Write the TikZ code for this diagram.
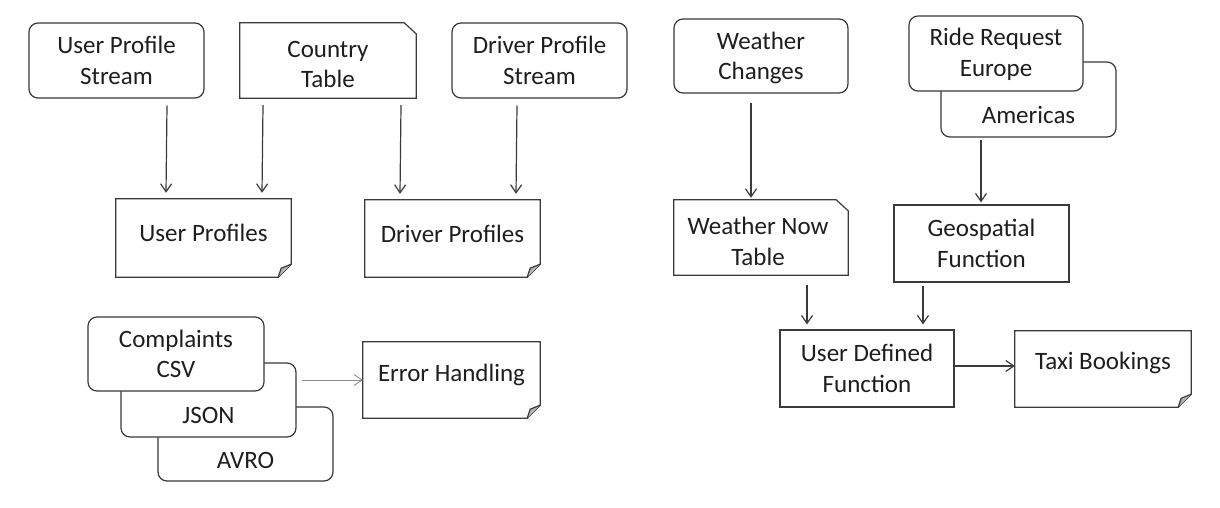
\documentclass[tikz,border=0pt]{standalone}
\usepackage{fontspec}
\setmainfont{Carlito}
\usetikzlibrary{arrows.meta,calc}
\definecolor{linec}{HTML}{3A3A3A}
\definecolor{txtc}{HTML}{1E1E1E}
\definecolor{foldc}{HTML}{B5B5B5}
\definecolor{graya}{HTML}{8A8A8A}
\newcommand\mydogear[1]{%
  \draw[outl] (#1.north west) -- (#1.north east) -- ($(#1.south east)+(0,-13)$) -- ($(#1.south east)+(-13,0)$) -- (#1.south west) -- cycle;
  \draw[outl,fill=foldc] ($(#1.south east)+(0,-13)$) -- ($(#1.south east)+(-10,-9)$) -- ($(#1.south east)+(-13,0)$);}
\newcommand\myclipped[1]{%
  \draw[outl] (#1.north west) -- ($(#1.north east)+(-12,0)$) -- ($(#1.north east)+(0,11)$) -- (#1.south east) -- (#1.south west) -- cycle;}
\begin{document}
\begin{tikzpicture}[x=1pt,y=-1pt,
  shp/.style 2 args={inner sep=0pt,minimum width=#1,minimum height=#2},
  rbox/.style={draw=linec,line width=1.2pt,rounded corners=9pt,fill=white},
  txt/.style={font=\fontsize{25}{30.5}\selectfont,text=txtc,align=center},
  outl/.style={draw=linec,line width=1.2pt,line join=miter},
  arr/.style={draw=linec,line width=1.2pt,-{Straight Barb[length=8pt,width=11pt]}},
  garr/.style={draw=graya,line width=0.9pt,-{Straight Barb[length=8pt,width=11pt]}}]
\useasboundingbox[fill=white] (0,0) rectangle (1220,507);

% ---- top row ----
\node[shp={175pt}{75pt},rbox,label={[txt]center:User Profile\\Stream}] (ups) at (116.5,60.5) {};
\node[shp={176pt}{75pt},label={[txt,yshift=-4pt]center:Country\\Table}] (ct) at (328,60.5) {};
\myclipped{ct}
\node[shp={175pt}{75pt},rbox,label={[txt]center:Driver Profile\\Stream}] (dps) at (539.5,60.5) {};
\node[shp={174pt}{74pt},rbox,label={[txt,yshift=-2pt]center:Weather\\Changes}] (wc) at (761,56) {};
\node[shp={175pt}{75pt},rbox,label={[txt,yshift=-15pt]center:Americas}] (am) at (1028.5,99.5) {};
\node[shp={174pt}{75pt},rbox,label={[txt,yshift=-1pt]center:Ride Request\\Europe}] (eu) at (996,53.5) {};

% ---- second row ----
\node[shp={175pt}{78pt},label={[txt,yshift=5pt]center:User Profiles}] (up) at (203.5,238) {};
\mydogear{up}
\node[shp={175pt}{77pt},label={[txt,yshift=5pt]center:Driver Profiles}] (dp) at (452.5,238.5) {};
\mydogear{dp}
\node[shp={174pt}{75pt},label={[txt,xshift=-3pt,yshift=-4pt]center:Weather Now\\Table}] (wnt) at (761,237.5) {};
\myclipped{wnt}
\node[shp={175pt}{77pt},draw=linec,line width=1.2pt,label={[txt]center:Geospatial\\Function}] (geo) at (981.5,243.5) {};

% ---- bottom right ----
\node[shp={174pt}{77pt},draw=linec,line width=1.2pt,label={[txt]center:User Defined\\Function}] (udf) at (867,368.5) {};
\node[shp={176pt}{76pt},label={[txt,yshift=6pt]center:Taxi Bookings}] (taxi) at (1103,369) {};
\mydogear{taxi}

% ---- bottom left ----
\node[shp={175pt}{74pt},rbox,label={[txt,yshift=-16pt]center:AVRO}] (avro) at (245.5,444) {};
\node[shp={175pt}{74pt},rbox,label={[txt,yshift=-15pt]center:JSON}] (json) at (208.5,400) {};
\node[shp={176pt}{74pt},rbox,label={[txt]center:Complaints\\CSV}] (csv) at (176,354) {};
\node[shp={177pt}{76pt},label={[txt,yshift=5pt]center:Error Handling}] (err) at (451.5,380) {};
\mydogear{err}

% ---- connectors ----
\draw[arr] ($(ups.south)+(50.5,7)$) -- ($(up.north)+(-37.5,-6)$);
\draw[arr] ($(ct.south)+(-65,7)$) -- ($(up.north)+(58.5,-6)$);
\draw[arr] ($(ct.south)+(73,7)$) -- ($(dp.north)+(-52.5,-6)$);
\draw[arr] ($(dps.south)+(-22.5,7)$) -- ($(dp.north)+(63.5,-6)$);
\draw[arr] ($(wc.south)+(-10,9)$) -- ($(wnt.north)+(-10,-2)$);
\draw[arr] ($(am.south)+(-47.5,2)$) -- ($(geo.north)+(-0.5,-2)$);
\draw[arr] ($(wnt.south)+(46,10)$) -- ($(udf.north)+(-60,-5)$);
\draw[arr] ($(geo.south)+(-58.5,3)$) -- ($(udf.north)+(56,-5)$);
\draw[arr] ($(udf.east)+(0,-2.5)$) -- ($(taxi.west)+(0,-3)$);
\draw[garr] ($(json.east)+(5,-20)$) -- (err.west);
\end{tikzpicture}
\end{document}
